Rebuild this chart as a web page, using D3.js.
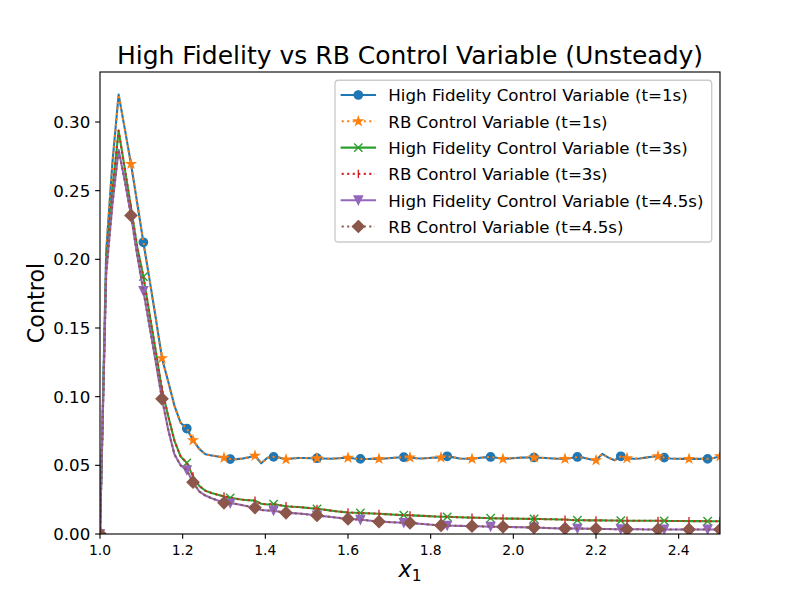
<!DOCTYPE html>
<html><head><meta charset="utf-8">
<script src="https://cdn.jsdelivr.net/npm/d3@7"></script>
<style>body{margin:0;background:#fff} svg{display:block} text{font-family:"DejaVu Sans",sans-serif;fill:#000}</style>
</head><body><svg id="c" width="800" height="600"></svg>
<script>
// ---- data ----
const xValues = [1.000,1.015,1.030,1.045,1.060,1.075,1.090,1.105,1.120,1.135,1.150,1.165,1.180,1.195,1.210,1.225,1.240,1.255,1.270,1.285,
1.300,1.315,1.330,1.345,1.360,1.375,1.390,1.405,1.420,1.435,1.450,1.465,1.480,1.495,1.510,1.525,1.540,1.555,1.570,1.585,
1.600,1.615,1.630,1.645,1.660,1.675,1.690,1.705,1.720,1.735,1.750,1.765,1.780,1.795,1.810,1.825,1.840,1.855,1.870,1.885,
1.900,1.915,1.930,1.945,1.960,1.975,1.990,2.005,2.020,2.035,2.050,2.065,2.080,2.095,2.110,2.125,2.140,2.155,2.170,2.185,
2.200,2.215,2.230,2.245,2.260,2.275,2.290,2.305,2.320,2.335,2.350,2.365,2.380,2.395,2.410,2.425,2.440,2.455,2.470,2.485,2.500];

const hfT1 = [0,0.206,0.270,0.320,0.295,0.2695,0.241,0.2124,0.185,0.157,0.128,0.111,0.0935,0.081,0.0768,0.0683,0.062,0.058,0.0572,0.0565,
0.0555,0.0546,0.0545,0.0549,0.0558,0.0570,0.0515,0.0555,0.0562,0.0556,0.0543,0.0550,0.0553,0.0553,0.0552,0.0552,0.0550,0.0548,0.0550,0.0553,
0.0555,0.0550,0.0547,0.0546,0.0547,0.0547,0.0550,0.0554,0.0557,0.0559,0.0557,0.0552,0.0550,0.0553,0.0556,0.0557,0.0566,0.0558,0.0550,0.0548,
0.0547,0.0553,0.0558,0.0561,0.0555,0.0547,0.0550,0.0553,0.0556,0.0557,0.0557,0.0555,0.0553,0.0550,0.0548,0.0547,0.0553,0.0561,0.0556,0.0545,
0.0537,0.0583,0.0556,0.0537,0.0566,0.0552,0.0548,0.0550,0.0556,0.0563,0.0566,0.0556,0.0550,0.0548,0.0547,0.0547,0.0547,0.0547,0.0547,0.0554,0.0566];

const rbT1 = [0,0.206,0.270,0.320,0.295,0.2695,0.241,0.2124,0.185,0.157,0.128,0.111,0.0935,0.081,0.0768,0.0683,0.062,0.058,0.0572,0.0565,
0.0555,0.0546,0.0545,0.0549,0.0558,0.0570,0.0515,0.0555,0.0562,0.0556,0.0543,0.0550,0.0553,0.0553,0.0552,0.0552,0.0550,0.0548,0.0550,0.0553,
0.0555,0.0550,0.0547,0.0546,0.0547,0.0547,0.0550,0.0554,0.0557,0.0559,0.0557,0.0552,0.0550,0.0553,0.0556,0.0557,0.0566,0.0558,0.0550,0.0548,
0.0547,0.0553,0.0558,0.0561,0.0555,0.0547,0.0550,0.0553,0.0556,0.0557,0.0557,0.0555,0.0553,0.0550,0.0548,0.0547,0.0553,0.0561,0.0556,0.0545,
0.0537,0.0583,0.0556,0.0537,0.0566,0.0552,0.0548,0.0550,0.0556,0.0563,0.0566,0.0556,0.0550,0.0548,0.0547,0.0547,0.0547,0.0547,0.0547,0.0554,0.0566];

const hfT3 = [0,0.195,0.250,0.2937,0.266,0.2376,0.209,0.1874,0.160,0.133,0.105,0.086,0.068,0.0565,0.0518,0.042,0.035,0.0315,0.0298,0.0285,
0.0273,0.0263,0.0256,0.0250,0.0246,0.0243,0.0220,0.0215,0.0218,0.0210,0.0202,0.0199,0.0196,0.0192,0.0188,0.0183,0.0178,0.0172,0.0166,0.0161,
0.0157,0.0155,0.0153,0.0151,0.0149,0.0147,0.0145,0.0142,0.0139,0.0137,0.0136,0.0134,0.0132,0.0130,0.0128,0.0126,0.0125,0.0124,0.0122,0.0120,
0.0119,0.0118,0.0117,0.0115,0.0114,0.0113,0.0112,0.0112,0.0111,0.0110,0.0110,0.0109,0.0108,0.0107,0.0106,0.0105,0.0102,0.0100,0.0100,0.0099,
0.0099,0.0099,0.0098,0.0098,0.0097,0.0097,0.0097,0.0096,0.0096,0.0096,0.0096,0.0096,0.0095,0.0095,0.0095,0.0094,0.0094,0.0094,0.0093,0.0093,0.0093];

const rbT3 = [0,0.195,0.250,0.2937,0.266,0.2376,0.209,0.1874,0.160,0.133,0.105,0.086,0.068,0.0565,0.0518,0.042,0.035,0.0315,0.0298,0.0285,
0.0273,0.0263,0.0256,0.0250,0.0246,0.0243,0.0220,0.0215,0.0218,0.0210,0.0202,0.0199,0.0196,0.0192,0.0188,0.0183,0.0178,0.0172,0.0166,0.0161,
0.0157,0.0155,0.0153,0.0151,0.0149,0.0147,0.0145,0.0142,0.0139,0.0137,0.0136,0.0134,0.0132,0.0130,0.0128,0.0126,0.0125,0.0124,0.0122,0.0120,
0.0119,0.0118,0.0117,0.0115,0.0114,0.0113,0.0112,0.0112,0.0111,0.0110,0.0110,0.0109,0.0108,0.0107,0.0106,0.0105,0.0102,0.0100,0.0100,0.0099,
0.0099,0.0099,0.0098,0.0098,0.0097,0.0097,0.0097,0.0096,0.0096,0.0096,0.0096,0.0096,0.0095,0.0095,0.0095,0.0094,0.0094,0.0094,0.0093,0.0093,0.0093];

const hfT45 = [0,0.190,0.240,0.2798,0.257,0.232,0.203,0.177,0.151,0.125,0.0984,0.076,0.058,0.050,0.0465,0.0377,0.031,0.028,0.026,0.0244,
0.0227,0.0224,0.0218,0.0210,0.0200,0.0192,0.0175,0.0171,0.0170,0.0162,0.0154,0.0152,0.0149,0.0145,0.0140,0.0135,0.0130,0.0125,0.0120,0.0115,
0.0110,0.0107,0.0104,0.0100,0.0095,0.0090,0.0088,0.0086,0.0084,0.0082,0.0081,0.0077,0.0073,0.0069,0.0065,0.0062,0.0061,0.0060,0.0059,0.0058,
0.0057,0.0056,0.0055,0.0054,0.0053,0.0052,0.0051,0.0050,0.0049,0.0048,0.0047,0.0046,0.0044,0.0042,0.0041,0.0040,0.0040,0.0039,0.0039,0.0038,
0.0038,0.0037,0.0036,0.0035,0.0035,0.0034,0.0034,0.0034,0.0033,0.0033,0.0033,0.0033,0.0033,0.0033,0.0033,0.0033,0.0033,0.0033,0.0033,0.0033,0.0033];

const rbT45 = [0,0.190,0.240,0.2798,0.257,0.232,0.203,0.177,0.151,0.125,0.0984,0.076,0.058,0.050,0.0465,0.0377,0.031,0.028,0.026,0.0244,
0.0227,0.0224,0.0218,0.0210,0.0200,0.0192,0.0175,0.0171,0.0170,0.0162,0.0154,0.0152,0.0149,0.0145,0.0140,0.0135,0.0130,0.0125,0.0120,0.0115,
0.0110,0.0107,0.0104,0.0100,0.0095,0.0090,0.0088,0.0086,0.0084,0.0082,0.0081,0.0077,0.0073,0.0069,0.0065,0.0062,0.0061,0.0060,0.0059,0.0058,
0.0057,0.0056,0.0055,0.0054,0.0053,0.0052,0.0051,0.0050,0.0049,0.0048,0.0047,0.0046,0.0044,0.0042,0.0041,0.0040,0.0040,0.0039,0.0039,0.0038,
0.0038,0.0037,0.0036,0.0035,0.0035,0.0034,0.0034,0.0034,0.0033,0.0033,0.0033,0.0033,0.0033,0.0033,0.0033,0.0033,0.0033,0.0033,0.0033,0.0033,0.0033];

const seriesLabels = [
  "High Fidelity Control Variable (t=1s)",
  "RB Control Variable (t=1s)",
  "High Fidelity Control Variable (t=3s)",
  "RB Control Variable (t=3s)",
  "High Fidelity Control Variable (t=4.5s)",
  "RB Control Variable (t=4.5s)"
];
const seriesValues = [hfT1, rbT1, hfT3, rbT3, hfT45, rbT45];
const xTicks = [1.0, 1.2, 1.4, 1.6, 1.8, 2.0, 2.2, 2.4];
const yTicks = [0.00, 0.05, 0.10, 0.15, 0.20, 0.25, 0.30];
const titleText = "High Fidelity vs RB Control Variable (Unsteady)";
const yLabelText = "Control";

// ---- styling ----
const PT = 100 / 72;
const colors = ["#1f77b4", "#ff7f0e", "#2ca02c", "#d62728", "#9467bd", "#8c564b"];
const dashed = [false, true, false, true, false, true];
const markerKinds = ["o", "*", "x", "|", "v", "D"];
const markEvery = [7, 5, 7, 5, 7, 5];

const svg = d3.select("#c");
svg.append("rect").attr("width", 800).attr("height", 600).attr("fill", "#fff");

const L = 100, R = 720, T = 72, B = 534;
const x = d3.scaleLinear().domain([1.0, 2.5]).range([L, R]);
const y = d3.scaleLinear().domain([0, 0.3364]).range([B, T]);

svg.append("defs").append("clipPath").attr("id", "clip")
  .append("rect").attr("x", L).attr("y", T).attr("width", R - L).attr("height", B - T);

const W = 6 * PT;          // marker size in px
const MEW = 1 * PT;        // marker edge width

function markerPath(kind) {
  const h = W / 2;
  switch (kind) {
    case "o": return d3.arc()({innerRadius: 0, outerRadius: h, startAngle: 0, endAngle: 2 * Math.PI});
    case "*": {
      const pts = [];
      const rin = h * 0.381966;
      for (let i = 0; i < 10; i++) {
        const r = i % 2 === 0 ? h : rin;
        const a = -Math.PI / 2 + i * Math.PI / 5;
        pts.push([r * Math.cos(a), r * Math.sin(a)]);
      }
      return "M" + pts.map(p => p.join(",")).join("L") + "Z";
    }
    case "x": return `M${-h},${-h}L${h},${h}M${-h},${h}L${h},${-h}`;
    case "|": return `M0,${-h}L0,${h}`;
    case "v": return `M0,${h}L${-h},${-h}L${h},${-h}Z`;
    case "D": { const d = W * Math.SQRT2 / 2; return `M0,${-d}L${d},0L0,${d}L${-d},0Z`; }
  }
}
function drawMarker(g, kind, color, px, py) {
  const filled = !(kind === "x" || kind === "|");
  g.append("path").attr("d", markerPath(kind))
    .attr("transform", `translate(${px},${py})`)
    .attr("fill", filled ? color : "none")
    .attr("stroke", color).attr("stroke-width", MEW)
    .attr("stroke-linejoin", "miter");
}

const plot = svg.append("g").attr("clip-path", "url(#clip)");
const line = d3.line().x((d, i) => x(xValues[i])).y(d => y(d));

seriesValues.forEach((vals, s) => {
  const g = plot.append("g");
  g.append("path").attr("d", line(vals))
    .attr("fill", "none").attr("stroke", colors[s])
    .attr("stroke-width", 1.5 * PT)
    .attr("stroke-linejoin", "round")
    .attr("stroke-linecap", dashed[s] ? "butt" : "square")
    .attr("stroke-dasharray", dashed[s] ? `${1.5 * PT},${1.65 * 1.5 * PT}` : null);
  vals.forEach((v, i) => {
    if (i % markEvery[s] === 0) drawMarker(g, markerKinds[s], colors[s], x(xValues[i]), y(v));
  });
});

// ---- axes ----
const tickLen = 3.5 * PT, tickPad = 3.5 * PT;
const axg = svg.append("g");
axg.append("rect").attr("x", L).attr("y", T).attr("width", R - L).attr("height", B - T)
  .attr("fill", "none").attr("stroke", "#000").attr("stroke-width", 0.8 * PT);

xTicks.forEach(t => {
  axg.append("line").attr("x1", x(t)).attr("x2", x(t)).attr("y1", B).attr("y2", B + tickLen)
    .attr("stroke", "#000").attr("stroke-width", 0.8 * PT);
  axg.append("text").attr("x", x(t)).attr("y", 555).attr("text-anchor", "middle")
    .attr("font-size", 10 * PT).text(d3.format(".1f")(t));
});
yTicks.forEach(t => {
  axg.append("line").attr("x1", L - tickLen).attr("x2", L).attr("y1", y(t)).attr("y2", y(t))
    .attr("stroke", "#000").attr("stroke-width", 0.8 * PT);
  axg.append("text").attr("x", L - tickLen - tickPad).attr("y", y(t) + 6.1).attr("text-anchor", "end")
    .attr("font-size", 12 * PT).text(d3.format(".2f")(t));
});

// title
svg.append("text").attr("x", (L + R) / 2).attr("y", 64).attr("text-anchor", "middle")
  .attr("font-size", 18 * PT).text(titleText);
// y label
svg.append("text").attr("transform", `translate(43.5,${(T + B) / 2}) rotate(-90)`)
  .attr("text-anchor", "middle").attr("font-size", 16 * PT).text(yLabelText);
// x label (math x_1)
const xl = svg.append("text").attr("x", 410).attr("y", 577).attr("text-anchor", "middle")
  .attr("font-size", 16 * PT);
xl.append("tspan").attr("font-style", "italic").text("x");
xl.append("tspan").attr("font-size", 16 * PT * 0.7).attr("dy", 3.5).text("1");

// ---- legend ----
const FS = 12 * PT;
const lg = svg.append("g");
lg.append("rect").attr("x", 335).attr("y", 80.3).attr("width", 711.7 - 335).attr("height", 242 - 80.3)
  .attr("rx", 0.2 * FS).attr("ry", 0.2 * FS)
  .attr("fill", "#fff").attr("fill-opacity", 0.8)
  .attr("stroke", "#cccccc").attr("stroke-width", 1 * PT);
seriesLabels.forEach((lab, s) => {
  const cy = 95 + s * 26.3;
  const x0 = 335 + 0.4 * FS, x1 = x0 + 2 * FS;
  lg.append("line").attr("x1", x0).attr("x2", x1).attr("y1", cy).attr("y2", cy)
    .attr("stroke", colors[s]).attr("stroke-width", 1.5 * PT)
    .attr("stroke-linecap", dashed[s] ? "butt" : "square")
    .attr("stroke-dasharray", dashed[s] ? `${1.5 * PT},${1.65 * 1.5 * PT}` : null);
  drawMarker(lg, markerKinds[s], colors[s], (x0 + x1) / 2, cy);
  lg.append("text").attr("x", x1 + 0.8 * FS).attr("y", cy + 6.3).attr("font-size", FS).text(lab);
});
</script></body></html>
